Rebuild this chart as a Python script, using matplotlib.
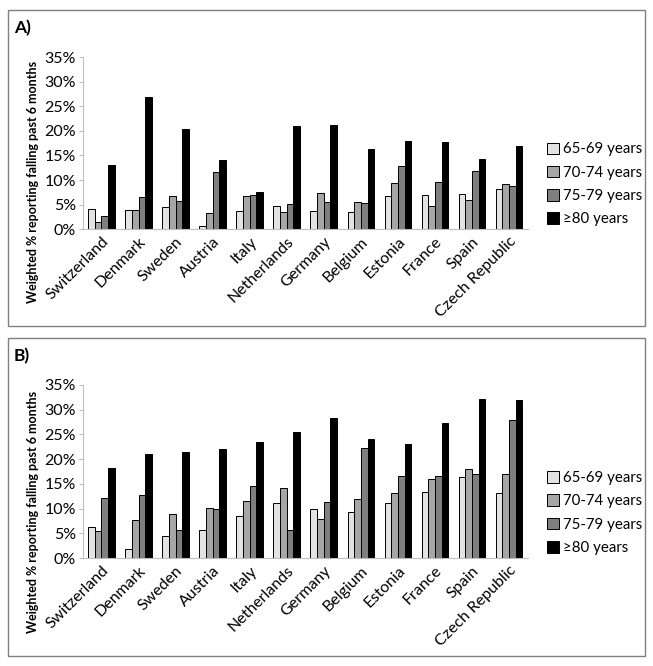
import numpy as np
import matplotlib
matplotlib.use("Agg")
import matplotlib.pyplot as plt
from matplotlib.patches import Rectangle

plt.rcParams['font.family'] = ['Lato', 'DejaVu Sans']

# ---- data ----
countries = ["Switzerland", "Denmark", "Sweden", "Austria", "Italy", "Netherlands",
             "Germany", "Belgium", "Estonia", "France", "Spain", "Czech Republic"]
age_groups = ["65-69 years", "70-74 years", "75-79 years", "\u226580 years"]

# panel A (%)
a_65_69 = [4.1, 3.9, 4.6, 0.6, 3.6, 4.7, 3.6, 3.4, 6.8, 7.0, 7.1, 8.1]
a_70_74 = [1.4, 3.9, 6.7, 3.2, 6.7, 3.4, 7.4, 5.6, 9.3, 4.7, 5.9, 9.1]
a_75_79 = [2.6, 6.5, 5.7, 11.6, 7.0, 5.2, 5.5, 5.3, 12.8, 9.5, 11.8, 8.8]
a_80 = [13.0, 27.0, 20.3, 14.1, 7.5, 21.1, 21.3, 16.3, 18.0, 17.8, 14.3, 16.9]

# panel B (%)
b_65_69 = [6.3, 1.9, 4.5, 5.7, 8.6, 11.1, 9.9, 9.4, 11.1, 13.3, 16.4, 13.1]
b_70_74 = [5.5, 7.8, 8.9, 10.1, 11.6, 14.2, 8.0, 12.0, 13.2, 16.0, 18.0, 16.9]
b_75_79 = [12.2, 12.8, 5.6, 10.0, 14.6, 5.7, 11.4, 22.2, 16.5, 16.5, 16.9, 28.0]
b_80 = [18.2, 21.0, 21.5, 22.1, 23.5, 25.4, 28.4, 24.1, 23.0, 27.3, 32.1, 31.9]

colors = ["#e3e3e3", "#a6a6a6", "#7f7f7f", "#000000"]

fig = plt.figure(figsize=(6.53, 6.66), dpi=100)

def draw_panel(ax_rect, series, letter, box):
    # frame around panel
    fig.patches.append(Rectangle((box[0], box[1]), box[2], box[3], transform=fig.transFigure,
                                 fill=False, edgecolor="#808080", linewidth=1.0))
    fig.text(box[0] + 0.008, box[1] + box[3] - 0.035, letter, fontsize=12.5, fontweight="bold")
    ax = fig.add_axes(ax_rect)
    x = np.arange(len(countries))
    w = 0.18
    for i, (vals, col) in enumerate(zip(series, colors)):
        ax.bar(x + (i - 1.5) * w, np.array(vals) / 100, width=w, color=col,
               edgecolor="black", linewidth=0.7, label=age_groups[i])
    ax.set_xlim(-0.5, len(countries) - 0.5)
    ax.set_ylim(0, 0.35)
    ax.set_yticks(np.arange(0, 0.36, 0.05))
    ax.set_yticklabels([f"{int(round(v * 100))}%" for v in np.arange(0, 0.36, 0.05)], fontsize=11.5)
    ax.set_xticks(x)
    ax.set_xticklabels(countries, rotation=45, ha="right", va="top",
                       rotation_mode="anchor", fontsize=11.5)
    for s in ["top", "right"]:
        ax.spines[s].set_visible(False)
    for s in ["left", "bottom"]:
        ax.spines[s].set_color("#bfbfbf")
    ax.tick_params(axis="x", length=0, pad=4)
    ax.tick_params(axis="y", length=3, color="#bfbfbf", pad=2)
    ax.legend(loc="center left", bbox_to_anchor=(1.03, 0.26), frameon=False,
              fontsize=10.8, handlelength=0.8, handleheight=0.8, handletextpad=0.3,
              labelspacing=0.62, borderaxespad=0)
    return ax

ax_a = draw_panel([0.127, 0.656, 0.681, 0.258], [a_65_69, a_70_74, a_75_79, a_80], "A)",
                  (0.013, 0.511, 0.974, 0.474))
ax_b = draw_panel([0.127, 0.162, 0.681, 0.260], [b_65_69, b_70_74, b_75_79, b_80], "B)",
                  (0.013, 0.015, 0.974, 0.478))

ylab = "Weighted % reporting falling past 6 months"
fig.text(0.051, 1 - 182 / 666, ylab, rotation=90, ha="center", va="center",
         fontsize=9, fontweight="bold")
fig.text(0.051, 1 - 512 / 666, ylab, rotation=90, ha="center", va="center",
         fontsize=9, fontweight="bold")

fig.savefig("out.png", dpi=100)
